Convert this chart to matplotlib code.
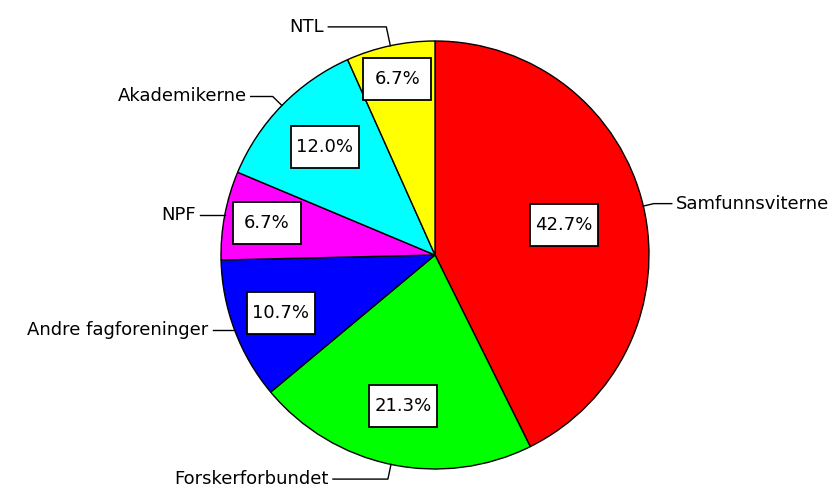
import numpy as np
import matplotlib.pyplot as plt
from matplotlib.patches import Rectangle

labels = ["Samfunnsviterne", "Forskerforbundet", "Andre fagforeninger", "NPF", "Akademikerne", "NTL"]
shares = [42.7, 21.3, 10.7, 6.7, 12.0, 6.7]
colors = ["#ff0000", "#00ff00", "#0000ff", "#ff00ff", "#00ffff", "#ffff00"]

# where the boxed percentages sit, as a fraction of the radius
pct_dist = [0.62, 0.72, 0.77, 0.80, 0.72, 0.84]
# length of the horizontal part of each leader line (pixels)
tail_len = [18, 55, 22, 25, 22, 58]
elbow = [1.05, 1.07, 1.0, 1.0, 1.06, 1.09]

W, H = 838, 488
cx, cy, r = 435, H - 255, 214
box_w, box_h = 68, 42

fig = plt.figure(figsize=(W / 100, H / 100), dpi=100)
ax = fig.add_axes([0, 0, 1, 1])
ax.set_aspect("equal")
ax.set_axis_off()

wedges, _ = ax.pie(shares, colors=colors, startangle=90, counterclock=False,
                   center=(cx, cy), radius=r,
                   wedgeprops=dict(edgecolor="black", linewidth=1.0))
ax.set_xlim(0, W)
ax.set_ylim(0, H)

for w, lab, s, pd, tl, el in zip(wedges, labels, shares, pct_dist, tail_len, elbow):
    mid = np.deg2rad((w.theta1 + w.theta2) / 2)
    c, sn = np.cos(mid), np.sin(mid)
    px, py = cx + r * pd * c, cy + r * pd * sn
    ax.add_patch(Rectangle((px - box_w / 2, py - box_h / 2), box_w, box_h,
                           fc="white", ec="black", lw=1.3, zorder=3))
    ax.text(px, py, "%.1f%%" % s, fontsize=13, ha="center", va="center", zorder=4)
    x0, y0 = cx + r * c, cy + r * sn
    x1, y1 = cx + r * el * c, cy + r * el * sn
    side = 1 if c > 0 else -1
    x2 = x1 + side * tl
    ax.plot([x0, x1, x2], [y0, y1, y1], color="black", lw=1.0)
    ax.text(x2 + side * 4, y1, lab, fontsize=13, ha="left" if side > 0 else "right",
            va="center")

fig.savefig("out.png", dpi=100)
